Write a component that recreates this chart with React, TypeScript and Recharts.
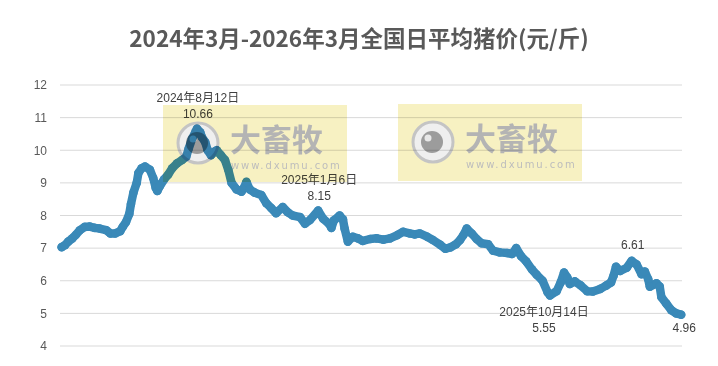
import React from 'react';
import { LineChart, Line, XAxis, YAxis, CartesianGrid, ReferenceDot } from 'recharts';

// day offset from 2024-03-01
const days = [0,4,8,13,17,22,28,34,40,46,54,59,65,71,74,78,82,84,87,91,93,97,101,107,111,114,116,119,124,129,134,140,146,151,154,158,162,164,168,170,174,177,181,185,188,193,198,202,206,212,218,221,224,228,234,242,248,254,260,268,274,280,289,295,301,311,317,324,327,330,337,341,343,347,353,359,365,374,382,390,398,407,414,422,428,434,443,450,459,465,471,478,483,487,491,497,503,509,517,523,531,540,546,551,557,563,570,576,583,589,592,600,605,609,613,616,622,629,637,644,653,660,666,669,672,677,685,691,697,703,707,711,713,721,725,727,733,739,745,751];
const prices = [7.03,7.09,7.2,7.3,7.4,7.55,7.65,7.66,7.62,7.6,7.55,7.45,7.45,7.52,7.65,7.8,8.05,8.35,8.7,9.0,9.3,9.45,9.5,9.4,9.15,8.85,8.75,8.9,9.1,9.25,9.45,9.6,9.7,9.8,10.05,10.35,10.55,10.66,10.55,10.4,10.25,10.0,9.85,9.95,10.0,9.85,9.7,9.4,9.0,8.8,8.73,8.85,9.03,8.8,8.7,8.63,8.38,8.23,8.07,8.26,8.1,8.0,7.95,7.75,7.86,8.15,7.9,7.75,7.62,7.85,8.0,7.88,7.6,7.2,7.35,7.3,7.22,7.28,7.3,7.26,7.3,7.4,7.5,7.45,7.42,7.45,7.35,7.25,7.1,6.98,7.02,7.12,7.25,7.4,7.6,7.45,7.28,7.15,7.12,6.92,6.87,6.85,6.82,7.0,6.75,6.6,6.35,6.18,6.0,5.65,5.55,5.68,5.95,6.25,6.1,5.9,5.98,5.86,5.68,5.67,5.75,5.85,5.95,6.15,6.43,6.3,6.4,6.61,6.5,6.2,6.28,6.05,5.82,5.92,5.82,5.5,5.3,5.1,5.0,4.96];

const yTicks = [4, 5, 6, 7, 8, 9, 10, 11, 12];

const notes = [
  { day: 164, value: 10.66, date: '2024年8月12日', pos: 'above' },
  { day: 311, value: 8.15, date: '2025年1月6日', pos: 'above' },
  { day: 592, value: 5.55, date: '2025年10月14日', pos: 'below' },
  { day: 691, value: 6.61, date: '', pos: 'aboveValue' },
  { day: 751, value: 4.96, date: '', pos: 'belowValue' },
];

const data = days.map((d, i) => ({ day: d, price: prices[i] }));

const BLUE = '#3a89b8';
const TXT = '#404040';
const FONT = '"Liberation Sans", Arial, "Noto Sans CJK SC", sans-serif';

function NoteShape(props: any) {
  const { cx, cy, note } = props;
  const fs = 12;
  if (note.pos === 'above') {
    return (
      <g>
        <text x={cx + 1} y={cy - 27} textAnchor="middle" fontSize={fs} fill={TXT} fontFamily={FONT}>{note.date}</text>
        <text x={cx + 1} y={cy - 11} textAnchor="middle" fontSize={fs} fill={TXT} fontFamily={FONT}>{note.value.toFixed(2)}</text>
      </g>
    );
  }
  if (note.pos === 'below') {
    return (
      <g>
        <text x={cx - 6} y={cy + 21} textAnchor="middle" fontSize={fs} fill={TXT} fontFamily={FONT}>{note.date}</text>
        <text x={cx - 6} y={cy + 37} textAnchor="middle" fontSize={fs} fill={TXT} fontFamily={FONT}>{note.value.toFixed(2)}</text>
      </g>
    );
  }
  if (note.pos === 'aboveValue') {
    return (
      <text x={cx + 1} y={cy - 12} textAnchor="middle" fontSize={fs} fill={TXT} fontFamily={FONT}>{note.value.toFixed(2)}</text>
    );
  }
  return (
    <text x={cx + 3} y={cy + 17} textAnchor="middle" fontSize={fs} fill={TXT} fontFamily={FONT}>{note.value.toFixed(2)}</text>
  );
}

function Watermark({ x, y }: { x: number; y: number }) {
  return (
    <g transform={`translate(${x},${y})`}>
      <rect x={0} y={0} width={184} height={77} fill="#f7f1c2" />
      <circle cx={35} cy={38} r={20} fill="#efefef" stroke="#c4c4c4" strokeWidth={3} />
      <circle cx={34} cy={38} r={11} fill="#9c9c9c" />
      <circle cx={30} cy={34} r={3.5} fill="#e8e8e8" />
      <text x={67} y={46} fontSize={31} fontWeight={700} fill="#b4b4b4" fontFamily='"Noto Sans CJK SC", sans-serif'>大畜牧</text>
      <text x={68} y={64} fontSize={10} fill="#bdbdbd" letterSpacing={1.9} fontFamily='"DejaVu Sans", sans-serif'>www.dxumu.com</text>
    </g>
  );
}

export default function App() {
  return (
    <div style={{ position: 'absolute', left: 0, top: 0, width: 718, height: 366, background: '#fff' }}>
      <div
        style={{
          position: 'absolute', left: 0, top: 22, width: 718, textAlign: 'center',
          fontSize: 22.5, fontWeight: 700, color: '#595959',
          fontFamily: '"Noto Sans CJK SC", sans-serif', lineHeight: '30px',
        }}
      >
        2024年3月-2026年3月全国日平均猪价(元/斤)
      </div>
      <div style={{ position: 'absolute', left: 0, top: 0 }}>
        <LineChart width={718} height={366} data={data} margin={{ top: 85, right: 36, bottom: 20, left: 10 }}>
          <CartesianGrid horizontal vertical={false} stroke="#d9d9d9" />
          <XAxis dataKey="day" type="number" domain={[-2, 752]} hide />
          <YAxis
            type="number"
            domain={[4, 12]}
            ticks={yTicks}
            width={50}
            axisLine={false}
            tickLine={false}
            tickSize={0}
            tickMargin={13}
            interval={0}
            tick={{ fontSize: 12, fill: '#595959', fontFamily: FONT }}
          />
          <Line
            type="linear"
            dataKey="price"
            stroke={BLUE}
            strokeWidth={8.5}
            strokeLinejoin="round"
            strokeLinecap="round"
            dot={{ r: 4.3, fill: BLUE, stroke: 'none' }}
            isAnimationActive={false}
          />
          {notes.map((n) => (
            <ReferenceDot
              key={n.day}
              x={n.day}
              y={n.value}
              r={0}
              ifOverflow="visible"
              shape={(p: any) => <NoteShape {...p} note={n} />}
            />
          ))}
        </LineChart>
      </div>
      <svg
        width={718}
        height={366}
        style={{ position: 'absolute', left: 0, top: 0, mixBlendMode: 'multiply', pointerEvents: 'none' }}
      >
        <Watermark x={163} y={105} />
        <Watermark x={398} y={104} />
      </svg>
    </div>
  );
}
